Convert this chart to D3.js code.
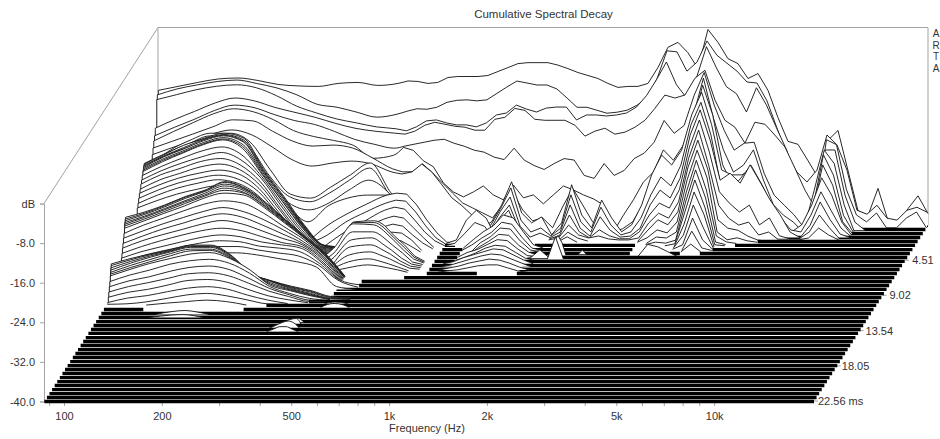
<!DOCTYPE html>
<html><head><meta charset="utf-8">
<script src="https://d3js.org/d3.v7.min.js"></script>
<style>html,body{margin:0;padding:0;background:#fff}svg{display:block}
text{font-family:"Liberation Sans",Arial,sans-serif;font-size:11px;fill:#333}</style>
</head><body><svg id="c" width="940" height="439"></svg>
<script>
// frequency grid (Hz) of every spectrum
const freqs=[87,100,115,133,153,176,203,234,270,311,358,412,475,510,547,587,630,677,726,780,837,898,964,1035,1111,1193,1280,1374,1475,1583,1700,1825,1958,2102,2256,2422,2600,2791,2995,3215,3452,3705,3977,4269,4583,4919,5280,5668,6084,6531,7010,7525,8077,8670,9307,9990,10723,11510,12355,13262,14236,15281,16402,17606,18899,20286];
const dbTicks=[0,-8,-16,-24,-32,-40];
const freqLabels=[[100,"100"],[200,"200"],[500,"500"],[1000,"1k"],[2000,"2k"],[5000,"5k"],[10000,"10k"]];
const freqMinor=[90,300,400,600,700,800,900,3000,4000,6000,7000,8000,9000];
const timeTicks=[4.51,9.02,13.54,18.05,22.56];
const floorDb=-40;
// time (ms) at which each frequency of the grid has sunk into the floor
const floorOnset=[10.3,10.4,10.6,10.9,11.1,11.2,11.1,10.5,10,9.8,9.5,8,6.9,6.8,6.7,6.7,6.6,6.3,2.3,2.3,3,5.9,6.1,6.1,6.2,6.2,6.2,2.4,2.3,2.3,2.3,2.3,2.3,2.3,2.3,2.3,2.3,2.3,3.9,3.8,3.6,3.55,3.55,3.6,3.3,3,2.8,2.3,2.1,1.7,1.5,1,.75,.65,.6,.55,.5,.4,.3,.25,.15,.1,.05,0,0,0];
// times of the dense floor-level slices
const floorTimes=[0,.51,1.03,1.54,2.05,2.56,3.08,3.59,4.1,4.61,5.13,5.64,6.15,6.67,7.18,7.69,8.2,8.72,9.23,9.74,10.25,10.77,11.28,11.79,12.31,12.82,13.33,13.84,14.36,14.87,15.38,15.9,16.41,16.92,17.44,17.95,18.46,18.97,19.49,20,20.51,21.03,21.54,22.05,22.56];

// each slice: [time ms, first index in freqs, dB values...]
const earlySlices=[
[0,0,-12.7,-11.9,-11.1,-10.4,-10.2,-10.7,-11.5,-11.8,-11.9,-11.3,-11.1,-11.7,-11.3,-10.8,-10.9,-11.3,-11.1,-10.1,-9.9,-9.9,-9.9,-9.7,-8.9,-8.1,-7.3,-7.1,-7.1,-7.1,-7.6,-8.3,-9.1,-9.7,-10.3,-11.3,-12.1,-11.9,-11.9,-11.3,-8.1,-4,-3,-5.1,-8.3,-.4,-3,-6.3,-7.3,-10.3,-9.3,-12.7,-18.2,-23,-23.6,-26.9,-30.3,-22.8,-20.8,-28.9,-37,-38,-32.5,-39,-39.8,-36.6,-34,-37.6],
[.2,0,-13.3,-12.1,-11.3,-10.6,-10.3,-11,-11.9,-13.3,-15.2,-15.8,-16.8,-17.8,-17.2,-16.6,-16.1,-16.2,-15.8,-14.8,-14.4,-14.3,-14.5,-14.3,-13,-11.7,-10.5,-10.9,-11.3,-11.3,-12.1,-13.9,-15.8,-15.8,-16.4,-17,-16.8,-16.4,-15.4,-13.9,-10.1,-4.4,-4.6,-8.5,-6.7,-2.4,-5.3,-6.9,-8.5,-10.7,-10.9,-14.5,-20,-25.5,-28.9,-30.9,-28.5,-21.4,-23.4,-28.5,-36.6,-37.4,-35.6,-38.2,-38.6,-36.6,-36,-37],
[.3,0,-14.1,-13.1,-12.1,-11.4,-11.1,-11.7,-13.3,-15.4,-16.8,-18,-18.8,-19.6,-20,-20.4,-19.6,-18.4,-18.2,-18.8,-19.2,-19.2,-19.6,-18.8,-17.2,-16.8,-15.2,-16,-16.6,-15.8,-15.6,-15.6,-18.2,-17.2,-17.2,-17.4,-17.2,-16.8,-15.6,-13.3,-10.1,-6.5,-11.1,-13.7,-9.7,-3.4,-7.7,-11.5,-12.9,-16.6,-11.7,-15.2,-19.8,-24.2,-30.3,-36,-35.8,-22.2,-23.2,-32.3,-37.4,-38.8,-37,-40,-40,-38,-36.8,-40],
[.6,0,-19.4,-17.6,-16,-14.3,-13.3,-13.9,-15.2,-16.2,-17.2,-18.4,-19.4,-20,-20.4,-20.6,-20,-18.8,-18.2,-18.6,-19,-19.2,-19.8,-19.8,-17.6,-17.2,-15.4,-15.8,-17.6,-17.8,-17.8,-17.8,-18.8,-21,-20,-19.4,-20.6,-20.2,-19.2,-17.8,-15.4,-12.7,-13.3,-12.7,-9.3,-7.7,-13.7,-17.8,-19.2,-22.4,-18.2,-18.6,-20.8,-23.2,-27.5,-31.9,-35.4,-23.8,-23.8,-32.9,-38.4],
[.75,0,-20.7,-19,-17.4,-15.6,-14.5,-15,-16.4,-17.6,-18.4,-19.8,-21.4,-22.4,-23.2,-22.8,-22.4,-22,-21.6,-21.4,-22.2,-22.8,-23.6,-24,-25,-25.5,-23.2,-25.6,-26.7,-27.5,-26.3,-25.3,-25.6,-28.7,-29.3,-26.3,-28.7,-27.7,-25.3,-24.2,-22,-17.6,-20.2,-18.6,-12.5,-7.9,-14.5,-19.6,-23.6,-22.2,-22,-28.3,-32.7,-34.7,-36.7,-39.3,-31.7,-23.6,-26.3,-34.7],
[.9,0,-21.5,-19.6,-17.8,-16,-15,-15.6,-17.2,-19.4,-20.6,-21.4,-22.4,-25,-24.4,-22.8,-23.4,-25.5,-26.7,-30,-31.8,-32.8,-31.8,-30.6,-32.4,-33.4,-30.4,-33,-32.4,-34.2,-32.4,-30.6,-31.4,-32.4,-33.2,-34.4,-39.9,-36.5,-33.4,-29.8,-27.8,-23.3,-25.4,-22.3,-16.3,-8.8,-16.9,-23.3,-27.8,-26.4,-23.3,-29.4,-34.4,-36.5,-37.9,-40,-34.4,-24.3,-28.4,-36.5],
[1.05,0,-22.7,-21.3,-19.9,-18.4,-17,-17.2,-19.3,-21.3,-22.3,-22.1,-22.7,-24.7,-26.9,-27.5,-27.5,-25.9,-27.7,-29.8,-31.8,-33.8,-34.8,-35.8,-36.8,-34.2,-31.6,-35.2,-37.4,-36.8,-38.8,-34.6,-30.8,-34.2,-37.6,-39.7,-39.7,-39,-37.6,-34.2,-30.2,-25.1,-28.1,-23.1,-18,-10,-16,-26.1,-30.2,-29.2,-27.5,-32.2,-35.2,-37.6,-40,-40,-35.8,-26.1,-30.2,-37.6],
[1.2,0,-23.8,-22.4,-21,-19.6,-18.8,-19.8,-22.2,-24.8,-26.1,-25.5,-25.1,-25.7,-27.3,-27.7,-27.3,-25.7,-27.3,-29.9,-32.5,-34.1,-36,-39.4]
];
const lobeSlices=[
[1.5,0,-25.4,-22.4,-20.4,-19,-19,-20.8,-26.4,-31.3,-32.1,-29.9,-27.4,-25,-30.9,-33.5,-37.5],
[1.65,0,-25.8,-23.2,-20.9,-19.3,-19.3,-21.5,-27.4,-31.6,-32.6,-30.8,-28.2,-25.8,-31.2,-33.7,-37.9],
[1.8,0,-26.2,-23.5,-21.3,-19.7,-19.7,-21.9,-28,-32.6,-34,-32.6,-30,-28,-30.6,-33,-37.3],
[2,0,-26.6,-24,-21.6,-20,-20,-22.4,-28.5,-32.9,-36.1,-32.9,-31.3,-30.7,-30.7,-31.3,-34.7],
[2.2,9,-36.6,-34.2,-32.2,-30.4,-30,-30.2,-32.4,-35.4,-38,-39.9],
[2.4,9,-38.3,-35.5,-33.5,-31.7,-31.1,-31.3,-33.5,-36.3,-38.7],
[2.6,10,-37.2,-35,-32.8,-32.2,-32.6,-34.8,-37.2,-39],
[2.8,11,-36.5,-34.3,-33.7,-34.1,-36.1,-38.1],
[3,11,-37.8,-35.6,-35,-35.4,-37.2,-38.8],
[3.2,12,-36.9,-36.3,-36.5,-37.9],
[3.4,12,-38.1,-37.5,-37.7,-38.8],
[4.6,11,-32,-31.8,-32.8,-34.9,-36.7,-38.9],
[4.7,11,-32,-32,-33.1,-35.1,-37,-39],
[4.8,10,-37,-32.1,-32.3,-33.5,-35.4,-37.4,-39.2],
[5,10,-37.9,-33.4,-33.4,-34.4,-36.1,-37.7,-39.5],
[5.2,10,-38.6,-34.7,-34.3,-35.4,-36.8,-38.4,-39.6],
[5.4,11,-35.8,-35.4,-36.2,-37.3,-38.7,-39.7],
[5.6,11,-37.1,-36.5,-37.1,-37.9,-38.9,-39.8],
[5.8,11,-38.2,-37.6,-38,-38.6,-39.3],
[6,11,-39.1,-38.5,-38.7,-39.1,-39.5]
];
const towerSlices=[
[1.25,21,-38.5,-37.3,-33.9,-29.2,-35.5,-37.5,-36.3,-39.9,-37.5,-29.8,-35.9,-38.5,-32.9,-36.5,-39.3,-37.9,-33.9,-27.8,-23.8,-25.8,-22.8,-15.7,-11.1,-17.7,-26.8,-27.8,-27.8,-26.8,-29.8,-33.9,-37.3,-39.3,-37.9,-33.9,-28.4,-31.9,-37.3],
[1.4,21,-39.1,-37.7,-34.3,-30.2,-36.7,-39.1,-38.3,-39.9,-38.3,-31.6,-37.1,-39.1,-34.1,-37.7,-39.7,-39.1,-36.3,-31.6,-28,-29.8,-25.6,-17.5,-12.9,-19.5,-29.8,-30.6,-28.2,-25.6,-29.2,-33.3,-36.3,-38.7,-39.1,-35.7,-31,-34.7,-38.3],
[1.55,22,-38.5,-34.8,-31.8,-37.7,-39.9,-39.1,-40,-38.9,-33.4,-38.1,-39.7,-35.8,-38.5,-39.9,-39.7,-38.1,-33.4,-30.4,-32,-28,-19.3,-14.2,-20.3,-28.4,-27,-29,-25.3,-28.8,-32.4,-35.4,-38.9,-40,-37.5,-32.8,-36.4,-39.3],
[1.7,22,-39,-35.8,-33.2,-38.2],
[1.7,29,-39.4,-35.2,-38.6,-39.8,-38.2,-39.4,-40,-40,-38.6,-35.2,-32.8,-33.8,-30.1,-21.5,-16,-22.5,-30.5,-32.8,-34.6,-33.2,-37.2,-35.8,-39.4,-40,-40,-38.6,-35.2,-37.8],
[1.85,22,-39.4,-36.4,-34,-38.6],
[1.85,29,-39.6,-37,-39,-39.6,-39.2,-39.8,-40,-40,-39.6,-36.6,-34.6,-35.6,-32.3,-23.5,-17.8,-24.9,-33,-35.6,-37,-36.4,-39,-38.4,-40,-40,-40,-39.6,-37.6,-39],
[2,23,-37,-34.9,-39],
[2,30,-38.2,-39.4],
[2,38,-37.8,-35.7,-36.7,-34.1,-25.2,-19.6,-25.6,-35.7,-37.4,-37.8,-39,-39.8],
[2.15,23,-37.5,-35.9,-39.5],
[2.15,30,-38.9],
[2.15,38,-39.1,-37.5,-38.1,-35.9,-27.4,-21.4,-27,-37.9,-39.5,-39.1,-39.7],
[2.3,23,-38.1,-36.9,-39.7],
[2.3,39,-38.7,-38.9,-37.7,-29.6,-23.2,-29.2,-38.5,-39.7],
[2.45,39,-39.5,-39.7,-39.1,-31.4,-24.9,-30.6,-39.5],
[2.6,41,-39.6,-33.2,-26.7,-32.2,-39.8],
[2.75,42,-35.4,-28.9,-33.5],
[2.9,42,-37.4,-31.3,-35.9],
[3.05,42,-39.1,-33.7,-38.1],
[3.2,43,-36.1,-39.5],
[3.4,43,-38.4],
[4,38,-40,-37.5,-38,-39]
];
const arcSlices=[
[2.3,19,-39.3,-35.3,-33.3,-34.9,-38.9],
[2.6,19,-39.5,-37.5,-35.3,-36.1,-39.1],
[2.9,21,-38.3,-36.7,-35.5,-33.3,-33.9,-36.7,-39.3],
[3.2,21,-38.9,-37.5,-36.3,-34.3,-34.7,-37.3,-39.5],
[3.5,22,-38,-36.8,-35,-35.2,-37.6,-39.4],
[3.8,22,-38.4,-37.2,-35.8,-36,-38,-39.4],
[4.1,21,-39,-38.4,-37.4,-36.4,-36.6,-38.2,-39.6],
[4.5,21,-39.3,-38.5,-37.5,-36.9,-37.1,-38.3,-39.5],
[4.9,20,-39.6,-38.8,-38.2,-37.6,-37,-37.2,-38.2,-39.2],
[5.3,20,-39.6,-39,-38.4,-37.8,-37.4,-37.6,-38.4,-39.2],
[5.7,20,-39.6,-39.2,-38.6,-38.2,-37.8,-38,-38.6,-39.4],
[6,20,-39.7,-39.5,-39.1,-38.7,-38.5,-38.5,-39.1,-39.7]
];
const group2=[
[2.77,0,-23.1,-21.2,-19.5,-18,-17,-18,-24.4,-29.8,-35.5,-39.6],
[2.8,0,-23.2,-21.3,-19.4,-18.1,-17.2,-18.3,-24.6,-30,-35.6,-39.6],
[2.84,0,-23.4,-21.5,-19.8,-18.2,-17.3,-18.5,-24.9,-30.3,-35.6,-39.6],
[2.88,0,-23.5,-21.5,-20,-18.5,-17.6,-18.9,-24.8,-30.1,-35.6,-39.6],
[2.91,0,-23.7,-21.6,-20,-18.3,-17.3,-18.5,-24.5,-29.9,-35.7,-39.5],
[2.95,0,-23.9,-21.9,-20.3,-18.6,-17.6,-19,-24.7,-30.2,-35.7,-39.5],
[3,0,-24.1,-22.1,-20.5,-18.8,-17.8,-19.3,-24.9,-30.5,-35.8,-39.6],
[3.05,0,-24.3,-22.3,-20.6,-18.9,-17.9,-19.6,-25,-30.4,-35.8,-39.6],
[3.19,0,-24.9,-23,-21.4,-19.9,-19.1,-20.7,-25.1,-30.6,-35.9,-39.5],
[3.33,0,-25.6,-23.7,-22.2,-20.9,-20,-21.5,-25.2,-30.8,-36,-39.4],
[3.47,0,-26.2,-24.3,-23,-21.6,-21,-22.3,-25.7,-31.1,-36.1,-39.3],
[3.61,0,-27,-25.1,-23.8,-22.5,-21.9,-23,-26.1,-31.2,-36.2,-39.2],
[3.75,0,-27.6,-25.9,-24.5,-23.5,-22.9,-23.7,-26.6,-31.5,-36.3,-39.1],
[3.89,0,-28.4,-26.7,-25.3,-24.3,-23.7,-24.5,-27,-31.7,-36.4,-39],
[4.03,0,-29.2,-27.5,-26.1,-25.1,-24.4,-25.1,-27.5,-32,-36.6,-38.9],
[4.17,0,-29.9,-28.4,-27.1,-26.1,-25.4,-26.1,-27.9,-32.3,-36.7,-38.8]
];
const group3=[
[6.5,0,-28.1,-27,-25.6,-23.9,-22.6,-20.9,-22.2,-25,-28.6,-32,-35.4],
[6.53,0,-28.4,-27.2,-25.7,-24,-22.7,-21,-22.3,-25.2,-28.6,-32,-35.4],
[6.56,0,-28.7,-27.4,-25.9,-24.2,-22.8,-21.3,-22.4,-25.1,-28.6,-32,-35.4],
[6.6,0,-29,-27.7,-26.2,-24.6,-23.1,-21.6,-22.6,-25.3,-28.6,-32,-35.4],
[6.63,0,-29.3,-27.9,-26.4,-24.8,-23.4,-22,-22.9,-25.5,-28.7,-32,-35.4],
[6.66,0,-29.6,-28.2,-26.7,-25.1,-23.6,-22.4,-23,-25.6,-28.8,-32,-35.4],
[6.7,0,-30,-28.5,-27,-25.5,-23.9,-22.9,-23.3,-25.8,-28.9,-32,-35.4],
[6.8,0,-30.9,-29.2,-27.8,-26.3,-25,-24.3,-24.8,-26.8,-29.5,-32.1,-35.5],
[6.9,0,-31.7,-30.2,-28.8,-27.5,-26.3,-25.5,-26.3,-27.9,-30,-32.4,-35.4],
[7,0,-32.6,-31.1,-29.7,-28.5,-27.3,-26.6,-27.3,-28.9,-30.7,-32.6,-35.5],
[7.1,0,-33.4,-31.9,-30.7,-29.6,-28.5,-27.8,-28.5,-29.9,-31.4,-32.7,-35.6],
[7.2,0,-34.3,-32.9,-31.7,-30.6,-29.7,-29.2,-29.7,-30.9,-32.1,-32.9,-35.8],
[7.3,0,-35.1,-33.8,-32.8,-31.8,-30.9,-30.4,-30.8,-31.8,-32.4,-33.1,-35.9],
[7.6,0,-35.7,-34.3,-33.3,-32.4,-31.6,-31.1,-31.3,-32.2,-32.6,-33.3,-35.7,-39],
[7.9,0,-36,-34.9,-33.9,-33.1,-32.4,-31.8,-31.8,-32.5,-33.1,-33.7,-35.5,-38.6],
[8.2,0,-36.2,-35.4,-34.4,-33.7,-33,-32.6,-32.6,-33,-33.7,-34.4,-35.5,-39.4]
];
const group4=[
[9.3,0,-33.1,-32,-31.1,-30.2,-29.3,-29.3,-31.3,-35,-36.5,-37.6,-38.5,-39.7],
[9.33,0,-33.4,-32.2,-31.2,-30.3,-29.4,-29.4,-31.4,-35,-36.5,-37.7,-38.6,-39.8],
[9.36,0,-33.8,-32.5,-31.4,-30.4,-29.5,-29.5,-31.3,-34.9,-36.5,-37.8,-38.7,-39.8],
[9.4,0,-34.2,-32.8,-31.6,-30.5,-29.6,-29.6,-31.4,-34.8,-36.5,-37.9,-38.9,-39.9],
[9.44,0,-34.6,-33.2,-32,-30.8,-29.9,-29.9,-31.5,-34.6,-36.7,-38,-39,-39.9],
[9.47,0,-34.9,-33.6,-32.4,-31.2,-30.2,-30.1,-31.6,-34.4,-36.9,-38.1,-39.1,-40],
[9.5,0,-35.2,-33.9,-32.7,-31.7,-30.8,-30.5,-31.7,-34,-37.1,-38.2,-39.2,-40],
[9.6,0,-36.2,-34.9,-33.9,-32.7,-32,-31.7,-32.5,-34.5,-37.2,-38.6,-39.6],
[9.7,0,-37.1,-35.9,-35.1,-34,-33.2,-32.9,-33.6,-35.4,-37.4,-38.7,-39.8],
[9.8,0,-38,-36.9,-36.1,-35.2,-34.3,-34.1,-34.7,-36.2,-37.8,-38.9,-39.9],
[9.9,0,-38.9,-37.9,-37.3,-36.4,-35.5,-35.3,-35.9,-37.3,-38.6,-39.4],
[10,0,-39.8,-38.9,-38.4,-37.6,-36.9,-36.6,-37.1,-38.3,-39.3],
[10.1,1,-39.9,-39.5,-38.8,-38.1,-37.8,-38.3,-39.1,-39.9],
[10.2,3,-39.6,-39.3,-39,-39.3,-40]
];
// small late islands: [time ms, freqs, dB values]
const islands=[
[3.7,[1946,2002,2060],[-40,-39.1,-40]],
[3.8,[1596,1640,1690,1740,1788],[-40,-37.5,-36,-37.5,-40]],
[4.2,[1405,1508,1619],[-40,-38.3,-40]],
[4.3,[1596,1690,1788],[-40,-35.5,-40]],
[10.2,[400,420,440,470,490],[-40,-39.5,-39.4,-39.6,-40]],
[10.5,[400,420,440,470,490],[-40,-39.4,-39.2,-39.5,-40]],
[11.4,[128,135,145,158,172,188],[-40,-39.7,-39.4,-39.2,-39.5,-40]],
[11.8,[124,135,145,158,170,182],[-40,-39.7,-39.5,-39.4,-39.6,-40]],
[12.4,[335,350,365,380],[-40,-39.4,-39.2,-40]],
[12.8,[320,335,350,365,380],[-40,-39.3,-38.8,-38.6,-40]],
[13.2,[305,320,335,350,365,380],[-40,-39.4,-38.8,-38.5,-38.9,-40]],
[13.6,[305,320,335,350,365,380],[-40,-39.5,-39,-39,-39.5,-40]]
];

const svg=d3.select("#c");
// scales
const xF=d3.scaleLog().domain([86.8,20286]).range([44,814]);
const yDb=d3.scaleLinear().domain([-40,0]).range([401.5,203.5]);
const tX=d3.scaleLinear().domain([0,22.56]).range([114,0]);
const tY=d3.scaleLinear().domain([0,22.56]).range([-176,0]);
const px=(f,t)=>xF(f)+tX(t), py=(db,t)=>yDb(db)+tY(t);
const gray="#a3a3a3";

// frame
const frame=svg.append("g").attr("fill","none").attr("stroke",gray);
const L=xF(86.8),R=xF(20286);
const topY=py(0,0),dbTop=yDb(0);
frame.append("path").attr("d",`M${L},${dbTop}L${tX(0)+L},${topY}H${tX(0)+R}V${py(-40,0)}`);
frame.append("path").attr("d",`M${tX(0)+L},${topY}V${py(-40,0)}`);

// axes
const dbAxis=d3.axisLeft(yDb).tickValues(dbTicks).tickSize(4).tickPadding(5)
  .tickFormat(d=>d===0?"dB":d.toFixed(1));
const gy=svg.append("g").attr("transform",`translate(${L},0)`).call(dbAxis);
gy.selectAll("line,path").attr("stroke",gray);
const xAxis=d3.axisBottom(xF).tickValues(freqLabels.map(d=>d[0]).concat(freqMinor)).tickSize(4).tickPadding(4)
  .tickFormat(d=>{const l=freqLabels.find(e=>e[0]===d);return l?l[1]:"";});
const gx=svg.append("g").attr("transform",`translate(0,${yDb(-40)+.5})`).call(xAxis);
gx.select(".domain").remove();
gx.selectAll("line").attr("stroke",gray);
gx.selectAll("text").attr("dy","0.9em");
svg.append("text").attr("x",427).attr("y",432).attr("text-anchor","middle").text("Frequency (Hz)");
svg.append("text").attr("x",543.5).attr("y",18).attr("text-anchor","middle").style("font-size","11.5px").text("Cumulative Spectral Decay");
["A","R","T","A"].forEach((c,i)=>svg.append("text").attr("x",936).attr("y",[37,48.7,60.4,72.1][i]).attr("text-anchor","middle").style("font-size","10px").text(c));
// time axis
const tg=svg.append("g");
const timeLabelGap=[7,7,6,5,4];
timeTicks.forEach((t,i)=>{
  const x=R+tX(t),y=py(-40,t)-.5;
  tg.append("line").attr("x1",x).attr("x2",x+4).attr("y1",y).attr("y2",y).attr("stroke",gray);
  tg.append("text").attr("x",x+timeLabelGap[i]).attr("y",y+4).text(t.toFixed(2)+(i===timeTicks.length-1?" ms":""));
});

// waterfall: smooth below the coarse part of the grid, polyline above it
const smoothEnd=510;
const smooth=d3.line().curve(d3.curveMonotoneX).x(d=>d.x).y(d=>d.y);
const straight=d3.line().x(d=>d.x).y(d=>d.y);
function tracePath(d){
  const a=d.filter(p=>p.f<=smoothEnd), b=d.filter(p=>p.f>=smoothEnd);
  if(a.length<2)return straight(d);
  if(b.length<2)return smooth(d.length===a.length?d:a);
  return smooth(a)+"L"+straight(b).slice(1);
}
const items=[];
floorTimes.forEach(t=>items.push({t,floor:true}));
[earlySlices,lobeSlices,towerSlices,arcSlices,group2,group3,group4].forEach(arr=>arr.forEach(r=>{
  const t=r[0],s=r[1],v=r.slice(2);
  const pts=v.map((db,i)=>({f:freqs[s+i],db}));
  if(s>0&&v[0]>floorDb)pts.unshift({f:freqs[s-1],db:floorDb});
  if(s+v.length<freqs.length&&v[v.length-1]>floorDb)pts.push({f:freqs[s+v.length],db:floorDb});
  items.push({t,pts,left:s===0});
}));
islands.forEach(r=>items.push({t:r[0],pts:r[1].map((f,i)=>({f,db:r[2][i]}))}));
items.sort((a,b)=>a.t-b.t||(b.floor?1:0)-(a.floor?1:0));

const wf=svg.append("g");
const stripe=d3.line().x(d=>d.x).y(d=>d.y).defined(d=>d.on);
items.forEach(it=>{
  const t=it.t,base=py(floorDb,t);
  if(it.floor){
    const d=freqs.map((f,i)=>({x:px(f,t),y:base,on:t>=floorOnset[i]}));
    wf.append("path").attr("d",stripe(d)).attr("fill","none").attr("stroke","#000").attr("stroke-width",3.3);
    return;
  }
  const d=it.pts.map(p=>({f:p.f,x:px(p.f,t),y:py(p.db,t)}));
  const tr=tracePath(d);
  const n=d.length-1;
  wf.append("path").attr("d",`${tr}L${d[n].x},${base}L${d[0].x},${base}Z`).attr("fill","#fff").attr("stroke","none");
  const path=it.left?`M${d[0].x},${base}L`+tr.slice(1):tr;
  wf.append("path").attr("d",path).attr("fill","none").attr("stroke","#111").attr("stroke-width",.9);
});
</script></body></html>
